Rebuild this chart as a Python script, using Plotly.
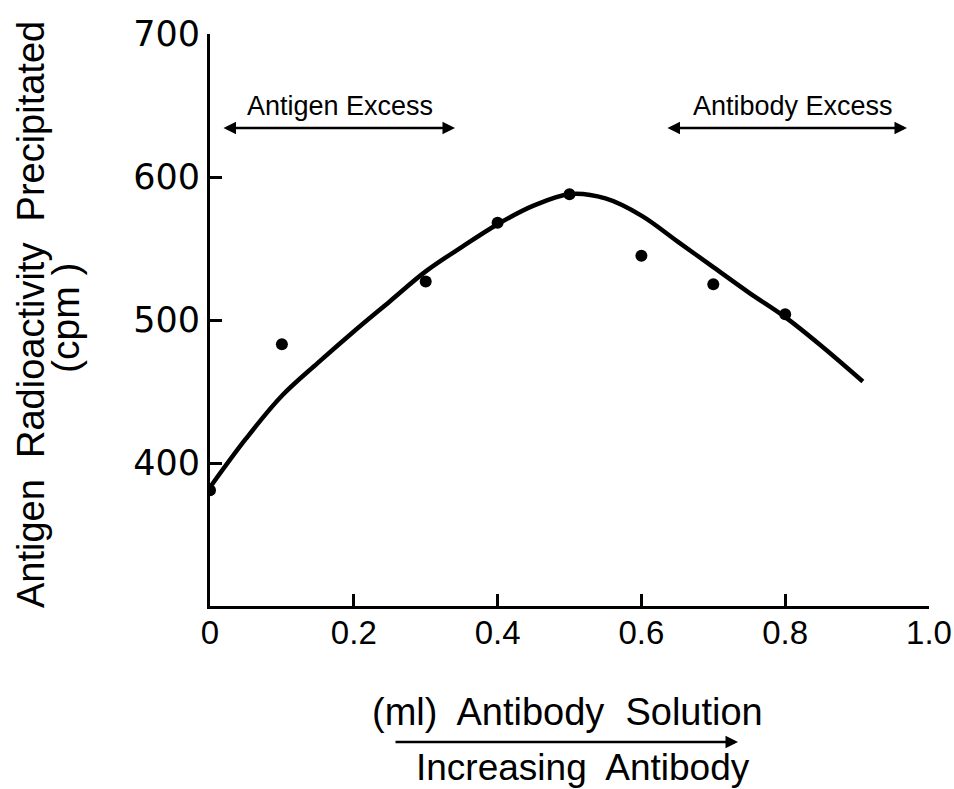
import plotly.graph_objects as go

# Data points
pts_x = [0.0, 0.1, 0.3, 0.4, 0.5, 0.6, 0.7, 0.8]
pts_y = [381, 483, 527, 568, 588, 545, 525, 504]

# Hand-drawn fitted curve
curve_x = [0.0, 0.05, 0.1, 0.15, 0.2, 0.25, 0.3, 0.35, 0.4, 0.45, 0.5,
           0.55, 0.6, 0.65, 0.7, 0.75, 0.8, 0.85, 0.908]
curve_y = [383, 417, 447, 470, 492, 513, 534, 551, 567, 580, 588,
           585, 573, 555, 537, 519, 502, 482, 457]

x_ticks = [0, 0.2, 0.4, 0.6, 0.8, 1.0]
x_tick_labels = ["0", "0.2", "0.4", "0.6", "0.8", "1.0"]
y_ticks = [400, 500, 600, 700]
y_tick_labels = ["400", "500", "600", "700"]

FONT = "Liberation Sans"
TICKFONT = "DejaVu Sans"
BLACK = "black"

fig = go.Figure()
fig.add_trace(go.Scatter(x=curve_x, y=curve_y, mode="lines",
                         line=dict(color=BLACK, width=4.5, shape="spline", smoothing=1.0),
                         showlegend=False, hoverinfo="skip"))
fig.add_trace(go.Scatter(x=pts_x, y=pts_y, mode="markers",
                         marker=dict(color=BLACK, size=12),
                         showlegend=False))

W, H = 954, 789
L, R, T, B = 210, 25, 34, 183
pw, ph = W - L - R, H - T - B


def px2dom(px, py):
    return (px - L) / pw, 1 - (py - T) / ph


annotations = []

# region arrows (pixel positions)
for x0, x1, yy in [(222, 455, 128), (666, 907, 128), (394, 738, 742)]:
    hx, hy = px2dom(x1, yy)
    tx, ty = px2dom(x0, yy)
    both = yy < 300
    annotations.append(dict(x=hx, y=hy, ax=tx, ay=ty,
                            xref="x domain", yref="y domain", axref="x domain", ayref="y domain",
                            text="", showarrow=True, arrowhead=2, startarrowhead=2,
                            arrowside="end+start" if both else "end",
                            arrowwidth=2.5, arrowsize=1, startarrowsize=1, arrowcolor=BLACK))

# pixel-positioned texts
pixel_texts = [
    (340, 106, "Antigen Excess", 0, 27),
    (793, 106, "Antibody Excess", 0, 27),
    (31, 315, "Antigen  Radioactivity  Precipitated", -90, 38),
    (65, 318, "(cpm )", -90, 39),
    (567, 712, "(ml)  Antibody  Solution", 0, 38),
    (583, 767, "Increasing  Antibody", 0, 37),
]
for px, py, txt, ang, sz in pixel_texts:
    dx, dy = px2dom(px, py)
    annotations.append(dict(x=dx, y=dy, xref="paper", yref="paper", text=txt,
                            textangle=ang, showarrow=False, xanchor="center", yanchor="middle",
                            font=dict(family=FONT, size=sz, color=BLACK)))

fig.update_layout(
    width=W, height=H,
    margin=dict(l=L, r=R, t=T, b=B),
    paper_bgcolor="white", plot_bgcolor="white",
    annotations=annotations,
    xaxis=dict(range=[0, 1.0], tickvals=x_ticks, ticktext=x_tick_labels, automargin=False,
               ticks="inside", ticklen=12, tickwidth=2.5, tickcolor=BLACK,
               ticklabeloverflow="allow", ticklabelstandoff=-5,
               showline=True, linecolor=BLACK, linewidth=3, showgrid=False, zeroline=False,
               tickfont=dict(family=FONT, size=33, color=BLACK)),
    yaxis=dict(range=[300, 700], tickvals=y_ticks, ticktext=y_tick_labels, automargin=False,
               ticks="inside", ticklen=12, tickwidth=2.5, tickcolor=BLACK,
               ticklabeloverflow="allow",
               showline=True, linecolor=BLACK, linewidth=3, showgrid=False, zeroline=False,
               tickfont=dict(family=TICKFONT, size=35, color=BLACK)),
)

fig.write_html("out.html")
